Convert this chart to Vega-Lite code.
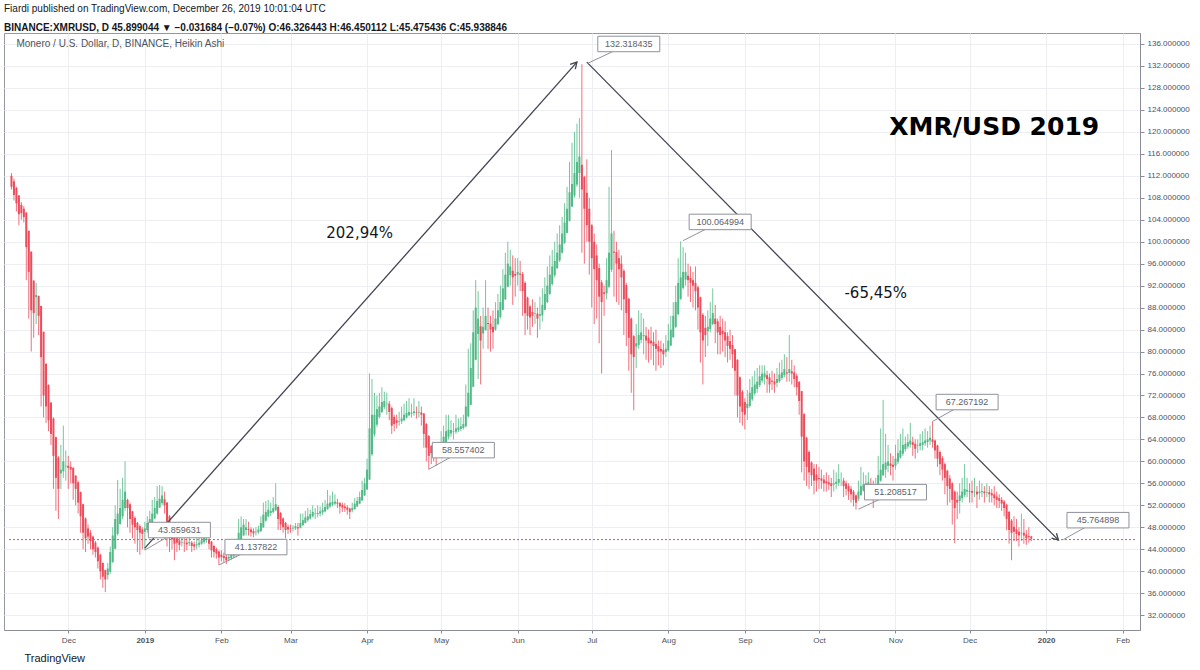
{
"$schema":"https://vega.github.io/schema/vega-lite/v6.json",
"width":1136,"height":597,
"autosize":{"type":"none"},
"padding":{"left":4,"top":33,"right":60,"bottom":40},
"background":"#ffffff",
"title":{"text":"Fiardi published on TradingView.com, December 26, 2019 10:01:04 UTC","subtitle":"BINANCE:XMRUSD, D  45.899044 ▼ −0.031684 (−0.07%)  O:46.326443  H:46.450112  L:45.475436  C:45.938846","anchor":"start","frame":"bounds","font":"Liberation Sans","fontSize":10,"fontWeight":"normal","color":"#131722","subtitleFont":"Liberation Sans","subtitleFontSize":10,"subtitleFontWeight":"bold","subtitleColor":"#131722","offset":0,"subtitlePadding":9},
"datasets":{
"candles":[
{"d":"2018-11-08","o":112,"h":112.5,"l":109.5,"c":110},
{"d":"2018-11-09","o":111,"h":111.5,"l":107.5,"c":108.5},
{"d":"2018-11-10","o":109.8,"h":110,"l":105.5,"c":107},
{"d":"2018-11-11","o":108.4,"h":108.5,"l":103,"c":105},
{"d":"2018-11-12","o":106.7,"h":107.2,"l":104,"c":105.2},
{"d":"2018-11-13","o":106,"h":106.5,"l":103.5,"c":104.5},
{"d":"2018-11-14","o":105.3,"h":105.4,"l":93,"c":99},
{"d":"2018-11-15","o":102,"h":102,"l":86,"c":94.5},
{"d":"2018-11-16","o":98.2,"h":98.2,"l":80,"c":87.5},
{"d":"2018-11-17","o":92.9,"h":93,"l":82.5,"c":87},
{"d":"2018-11-18","o":89.9,"h":92.5,"l":85,"c":90.3},
{"d":"2018-11-19","o":90.1,"h":90.2,"l":83,"c":86.5},
{"d":"2018-11-20","o":88.3,"h":88.3,"l":70,"c":79},
{"d":"2018-11-21","o":83.6,"h":83.6,"l":68,"c":72},
{"d":"2018-11-22","o":77.8,"h":77.8,"l":67,"c":70},
{"d":"2018-11-23","o":73.9,"h":74,"l":65.5,"c":67.5},
{"d":"2018-11-24","o":70.7,"h":70.8,"l":63,"c":65},
{"d":"2018-11-25","o":67.8,"h":68,"l":55,"c":61},
{"d":"2018-11-26","o":64.4,"h":64.5,"l":51,"c":57},
{"d":"2018-11-27","o":60.7,"h":61,"l":49.5,"c":55},
{"d":"2018-11-28","o":57.8,"h":63,"l":55,"c":58.5},
{"d":"2018-11-29","o":58.2,"h":66.5,"l":57,"c":60},
{"d":"2018-11-30","o":59.1,"h":62,"l":56.5,"c":59.2},
{"d":"2018-12-01","o":59.2,"h":61,"l":55,"c":58.8},
{"d":"2018-12-02","o":59,"h":60,"l":56,"c":58.5},
{"d":"2018-12-03","o":58.8,"h":59,"l":53,"c":56},
{"d":"2018-12-04","o":57.4,"h":57.5,"l":52,"c":55},
{"d":"2018-12-05","o":56.2,"h":56.5,"l":50.5,"c":52.5},
{"d":"2018-12-06","o":54.4,"h":54.5,"l":47,"c":50},
{"d":"2018-12-07","o":52.2,"h":52.3,"l":44,"c":47},
{"d":"2018-12-08","o":49.6,"h":49.8,"l":43.5,"c":46},
{"d":"2018-12-09","o":47.8,"h":48.5,"l":45,"c":46.3},
{"d":"2018-12-10","o":47,"h":47.5,"l":44,"c":45.5},
{"d":"2018-12-11","o":46.3,"h":46.5,"l":43,"c":44},
{"d":"2018-12-12","o":45.2,"h":45.5,"l":42.5,"c":43.5},
{"d":"2018-12-13","o":44.3,"h":44.5,"l":40.5,"c":41.8},
{"d":"2018-12-14","o":43,"h":43.2,"l":38.5,"c":40},
{"d":"2018-12-15","o":41.5,"h":41.6,"l":37,"c":39},
{"d":"2018-12-16","o":40.2,"h":40.3,"l":36.2,"c":38.5},
{"d":"2018-12-17","o":39.3,"h":41.5,"l":38.5,"c":40.5},
{"d":"2018-12-18","o":39.9,"h":44.5,"l":39.5,"c":43.5},
{"d":"2018-12-19","o":41.7,"h":48,"l":41.5,"c":46.5},
{"d":"2018-12-20","o":44.1,"h":52,"l":44,"c":49.5},
{"d":"2018-12-21","o":46.8,"h":56.6,"l":46.5,"c":50.5},
{"d":"2018-12-22","o":48.6,"h":55,"l":48.5,"c":51.5},
{"d":"2018-12-23","o":50,"h":57,"l":49.5,"c":53},
{"d":"2018-12-24","o":51.5,"h":60,"l":51,"c":54.5},
{"d":"2018-12-25","o":53,"h":53.2,"l":48,"c":51.5},
{"d":"2018-12-26","o":52.2,"h":52.5,"l":47,"c":49.5},
{"d":"2018-12-27","o":50.9,"h":51,"l":46,"c":48.5},
{"d":"2018-12-28","o":49.7,"h":50,"l":45,"c":48},
{"d":"2018-12-29","o":48.8,"h":49,"l":43.5,"c":47.5},
{"d":"2018-12-30","o":48.2,"h":48.5,"l":43,"c":47},
{"d":"2018-12-31","o":47.6,"h":48,"l":44,"c":46.8},
{"d":"2019-01-01","o":47.2,"h":49,"l":43.86,"c":47.8},
{"d":"2019-01-02","o":47.5,"h":50,"l":47,"c":48.8},
{"d":"2019-01-03","o":48.1,"h":51,"l":47.5,"c":49.5},
{"d":"2019-01-04","o":48.8,"h":53,"l":48.5,"c":50.5},
{"d":"2019-01-05","o":49.6,"h":53.5,"l":49.5,"c":51.5},
{"d":"2019-01-06","o":50.5,"h":55.5,"l":50.3,"c":52.8},
{"d":"2019-01-07","o":51.6,"h":55.7,"l":51.5,"c":53.2},
{"d":"2019-01-08","o":52.4,"h":55.5,"l":52,"c":53.8},
{"d":"2019-01-09","o":53.1,"h":54.5,"l":50.5,"c":52},
{"d":"2019-01-10","o":52.5,"h":52.6,"l":44.5,"c":47.5},
{"d":"2019-01-11","o":50,"h":50.2,"l":43.5,"c":46},
{"d":"2019-01-12","o":48,"h":48.2,"l":44,"c":45.8},
{"d":"2019-01-13","o":46.9,"h":47,"l":42,"c":45},
{"d":"2019-01-14","o":46,"h":46.5,"l":43.5,"c":45.2},
{"d":"2019-01-15","o":45.6,"h":46.5,"l":43.8,"c":44.8},
{"d":"2019-01-16","o":45.2,"h":46.3,"l":44.5,"c":45.3},
{"d":"2019-01-17","o":45.2,"h":46,"l":43.5,"c":45.1},
{"d":"2019-01-18","o":45.2,"h":46,"l":43.8,"c":44.9},
{"d":"2019-01-19","o":45.1,"h":46.5,"l":44.6,"c":45.3},
{"d":"2019-01-20","o":45.2,"h":45.5,"l":43.5,"c":44.6},
{"d":"2019-01-21","o":44.9,"h":45.4,"l":43.8,"c":44.5},
{"d":"2019-01-22","o":44.7,"h":46,"l":44,"c":44.9},
{"d":"2019-01-23","o":44.8,"h":46.2,"l":44.3,"c":45.2},
{"d":"2019-01-24","o":45,"h":46.5,"l":44.8,"c":45.6},
{"d":"2019-01-25","o":45.3,"h":47,"l":45,"c":46.1},
{"d":"2019-01-26","o":45.7,"h":46.8,"l":45.2,"c":45.9},
{"d":"2019-01-27","o":45.8,"h":46,"l":44,"c":45},
{"d":"2019-01-28","o":45.4,"h":45.5,"l":42.5,"c":43.8},
{"d":"2019-01-29","o":44.6,"h":44.8,"l":42.5,"c":43.5},
{"d":"2019-01-30","o":44,"h":44.3,"l":42.3,"c":43.2},
{"d":"2019-01-31","o":43.6,"h":43.8,"l":41.14,"c":42.5},
{"d":"2019-02-01","o":43.05,"h":43.8,"l":41.8,"c":42.6},
{"d":"2019-02-02","o":42.8,"h":43.4,"l":41.6,"c":42.4},
{"d":"2019-02-03","o":42.6,"h":43,"l":41.3,"c":42},
{"d":"2019-02-04","o":42.3,"h":43.5,"l":41.8,"c":42.6},
{"d":"2019-02-05","o":42.4,"h":44,"l":42,"c":43},
{"d":"2019-02-06","o":42.7,"h":44.5,"l":42.3,"c":43.3},
{"d":"2019-02-07","o":43,"h":44.3,"l":42.5,"c":43.5},
{"d":"2019-02-08","o":43.2,"h":49.5,"l":43,"c":47},
{"d":"2019-02-09","o":45.1,"h":50,"l":45,"c":48},
{"d":"2019-02-10","o":46.5,"h":49.5,"l":46.5,"c":48.5},
{"d":"2019-02-11","o":47.5,"h":49.5,"l":46.5,"c":48},
{"d":"2019-02-12","o":47.7,"h":49,"l":46.5,"c":47.5},
{"d":"2019-02-13","o":47.6,"h":48,"l":46.3,"c":47.1},
{"d":"2019-02-14","o":47.3,"h":47.8,"l":46.2,"c":46.9},
{"d":"2019-02-15","o":47.1,"h":48,"l":46.5,"c":47.2},
{"d":"2019-02-16","o":47.1,"h":48.3,"l":46.8,"c":47.6},
{"d":"2019-02-17","o":47.3,"h":50,"l":47.2,"c":48.8},
{"d":"2019-02-18","o":48,"h":52.5,"l":47.9,"c":50.3},
{"d":"2019-02-19","o":49.2,"h":52.8,"l":49,"c":50.8},
{"d":"2019-02-20","o":50,"h":53,"l":49.8,"c":51.2},
{"d":"2019-02-21","o":50.6,"h":52.5,"l":50,"c":51},
{"d":"2019-02-22","o":50.8,"h":53.5,"l":50.5,"c":51.5},
{"d":"2019-02-23","o":51.1,"h":56,"l":51,"c":52.2},
{"d":"2019-02-24","o":51.7,"h":52,"l":47.5,"c":49.5},
{"d":"2019-02-25","o":50.6,"h":50.8,"l":47.5,"c":48.5},
{"d":"2019-02-26","o":49.6,"h":49.8,"l":47,"c":48},
{"d":"2019-02-27","o":48.8,"h":49,"l":46,"c":47.5},
{"d":"2019-02-28","o":48.1,"h":48.5,"l":46.8,"c":47.6},
{"d":"2019-03-01","o":47.9,"h":48.5,"l":47,"c":47.8},
{"d":"2019-03-02","o":47.8,"h":48.4,"l":47.2,"c":47.9},
{"d":"2019-03-03","o":47.8,"h":48.8,"l":47.5,"c":48.2},
{"d":"2019-03-04","o":48,"h":48.8,"l":46.5,"c":47.8},
{"d":"2019-03-05","o":47.9,"h":50.5,"l":47.8,"c":48.8},
{"d":"2019-03-06","o":48.4,"h":50.5,"l":48.2,"c":49.3},
{"d":"2019-03-07","o":48.8,"h":51,"l":48.7,"c":49.8},
{"d":"2019-03-08","o":49.3,"h":51.5,"l":49,"c":50},
{"d":"2019-03-09","o":49.6,"h":51.2,"l":49.4,"c":50.4},
{"d":"2019-03-10","o":50,"h":52,"l":49.8,"c":50.8},
{"d":"2019-03-11","o":50.4,"h":51.5,"l":49.5,"c":50.5},
{"d":"2019-03-12","o":50.4,"h":52,"l":49.8,"c":50.6},
{"d":"2019-03-13","o":50.5,"h":51.8,"l":50,"c":50.9},
{"d":"2019-03-14","o":50.7,"h":52.5,"l":50.2,"c":51.2},
{"d":"2019-03-15","o":50.9,"h":53,"l":50.7,"c":51.7},
{"d":"2019-03-16","o":51.3,"h":54.8,"l":51.2,"c":52.3},
{"d":"2019-03-17","o":51.8,"h":53.8,"l":51.5,"c":52.5},
{"d":"2019-03-18","o":52.1,"h":54.5,"l":51.8,"c":52.6},
{"d":"2019-03-19","o":52.3,"h":54,"l":52,"c":52.7},
{"d":"2019-03-20","o":52.5,"h":53.2,"l":51.5,"c":52.3},
{"d":"2019-03-21","o":52.4,"h":52.6,"l":50.5,"c":51.8},
{"d":"2019-03-22","o":52.1,"h":52.5,"l":50.8,"c":51.6},
{"d":"2019-03-23","o":51.8,"h":52.4,"l":50.8,"c":51.5},
{"d":"2019-03-24","o":51.6,"h":52,"l":50.3,"c":51.2},
{"d":"2019-03-25","o":51.4,"h":51.6,"l":49.5,"c":50.8},
{"d":"2019-03-26","o":51.1,"h":52.5,"l":50.7,"c":51.5},
{"d":"2019-03-27","o":51.3,"h":53.3,"l":51.2,"c":52.3},
{"d":"2019-03-28","o":51.8,"h":53.5,"l":51.7,"c":52.8},
{"d":"2019-03-29","o":52.3,"h":54.5,"l":52.2,"c":53.5},
{"d":"2019-03-30","o":52.9,"h":56.5,"l":52.8,"c":54.8},
{"d":"2019-03-31","o":53.8,"h":57,"l":53.7,"c":56},
{"d":"2019-04-01","o":54.9,"h":60.5,"l":54.8,"c":58.5},
{"d":"2019-04-02","o":56.7,"h":76,"l":56.6,"c":66},
{"d":"2019-04-03","o":61.3,"h":75,"l":61,"c":68.5},
{"d":"2019-04-04","o":64.9,"h":72.5,"l":64.5,"c":68.5},
{"d":"2019-04-05","o":66.7,"h":72,"l":66.3,"c":69.5},
{"d":"2019-04-06","o":68.1,"h":72.5,"l":67.8,"c":70},
{"d":"2019-04-07","o":69,"h":73.5,"l":68.8,"c":70.8},
{"d":"2019-04-08","o":69.9,"h":72.7,"l":69.5,"c":71},
{"d":"2019-04-09","o":70.4,"h":72.5,"l":68.5,"c":70.5},
{"d":"2019-04-10","o":70.5,"h":71,"l":67.5,"c":69},
{"d":"2019-04-11","o":69.7,"h":70,"l":65,"c":66.5},
{"d":"2019-04-12","o":68.1,"h":68.5,"l":65.5,"c":66.8},
{"d":"2019-04-13","o":67.5,"h":68.5,"l":66,"c":67},
{"d":"2019-04-14","o":67.2,"h":69,"l":66.5,"c":67.3},
{"d":"2019-04-15","o":67.3,"h":70,"l":66.8,"c":67.8},
{"d":"2019-04-16","o":67.5,"h":70.5,"l":67.3,"c":68.5},
{"d":"2019-04-17","o":68,"h":71,"l":67.8,"c":68.8},
{"d":"2019-04-18","o":68.4,"h":71.5,"l":68.2,"c":69},
{"d":"2019-04-19","o":68.7,"h":70.5,"l":68,"c":68.9},
{"d":"2019-04-20","o":68.8,"h":71.5,"l":68.3,"c":69.1},
{"d":"2019-04-21","o":68.9,"h":70,"l":67.8,"c":68.8},
{"d":"2019-04-22","o":68.9,"h":71,"l":68,"c":69},
{"d":"2019-04-23","o":68.9,"h":70,"l":66.5,"c":68.5},
{"d":"2019-04-24","o":68.7,"h":68.8,"l":62.5,"c":65},
{"d":"2019-04-25","o":66.8,"h":67,"l":60,"c":62.5},
{"d":"2019-04-26","o":64.6,"h":64.8,"l":58.56,"c":61},
{"d":"2019-04-27","o":62.8,"h":63,"l":59.5,"c":61.5},
{"d":"2019-04-28","o":62.1,"h":62.5,"l":60,"c":61.2},
{"d":"2019-04-29","o":61.6,"h":62,"l":59.2,"c":60.8},
{"d":"2019-04-30","o":61.2,"h":63.5,"l":60.8,"c":62},
{"d":"2019-05-01","o":61.6,"h":65.5,"l":61.5,"c":63.5},
{"d":"2019-05-02","o":62.5,"h":66.5,"l":62.3,"c":64.5},
{"d":"2019-05-03","o":63.5,"h":68.5,"l":63.3,"c":65.5},
{"d":"2019-05-04","o":64.5,"h":68.5,"l":64,"c":65.8},
{"d":"2019-05-05","o":65.1,"h":67.5,"l":64.5,"c":65.7},
{"d":"2019-05-06","o":65.4,"h":67,"l":64,"c":65.5},
{"d":"2019-05-07","o":65.4,"h":68.5,"l":65,"c":66},
{"d":"2019-05-08","o":65.7,"h":67.8,"l":65.3,"c":66.2},
{"d":"2019-05-09","o":65.9,"h":68,"l":65.5,"c":66.4},
{"d":"2019-05-10","o":66.1,"h":68.5,"l":65.8,"c":66.8},
{"d":"2019-05-11","o":66.4,"h":74,"l":66.2,"c":70},
{"d":"2019-05-12","o":68.2,"h":80.5,"l":68,"c":72.5},
{"d":"2019-05-13","o":70.3,"h":81.5,"l":70.2,"c":77},
{"d":"2019-05-14","o":73.6,"h":87.5,"l":73.5,"c":83.5},
{"d":"2019-05-15","o":78.5,"h":93,"l":78.4,"c":88},
{"d":"2019-05-16","o":83.2,"h":91,"l":75,"c":86},
{"d":"2019-05-17","o":84.6,"h":86.5,"l":74,"c":82},
{"d":"2019-05-18","o":83.3,"h":88,"l":80.5,"c":84.5},
{"d":"2019-05-19","o":83.9,"h":93,"l":83.8,"c":86.5},
{"d":"2019-05-20","o":85.2,"h":88,"l":80.5,"c":85},
{"d":"2019-05-21","o":85.1,"h":86.5,"l":80,"c":84},
{"d":"2019-05-22","o":84.5,"h":87.5,"l":80.5,"c":83.5},
{"d":"2019-05-23","o":84,"h":89,"l":83.8,"c":86},
{"d":"2019-05-24","o":85,"h":90.5,"l":84.8,"c":87.5},
{"d":"2019-05-25","o":86.3,"h":92,"l":86,"c":89},
{"d":"2019-05-26","o":87.6,"h":95,"l":87.5,"c":91.5},
{"d":"2019-05-27","o":89.5,"h":98,"l":89.4,"c":94},
{"d":"2019-05-28","o":91.8,"h":100,"l":91.7,"c":96},
{"d":"2019-05-29","o":93.9,"h":98.5,"l":92,"c":95.5},
{"d":"2019-05-30","o":94.7,"h":97.5,"l":88.5,"c":93.5},
{"d":"2019-05-31","o":94.1,"h":97,"l":90,"c":93.8},
{"d":"2019-06-01","o":94,"h":97,"l":92,"c":94.5},
{"d":"2019-06-02","o":94.2,"h":96.5,"l":91,"c":94},
{"d":"2019-06-03","o":94.1,"h":94.5,"l":86.5,"c":91},
{"d":"2019-06-04","o":92.5,"h":92.8,"l":83,"c":87},
{"d":"2019-06-05","o":89.8,"h":90,"l":84,"c":86.5},
{"d":"2019-06-06","o":88.2,"h":88.5,"l":83,"c":86.2},
{"d":"2019-06-07","o":87.2,"h":89.5,"l":84.5,"c":86.5},
{"d":"2019-06-08","o":86.9,"h":89,"l":85,"c":87},
{"d":"2019-06-09","o":86.9,"h":88,"l":82.5,"c":86},
{"d":"2019-06-10","o":86.5,"h":90,"l":84,"c":86.8},
{"d":"2019-06-11","o":86.6,"h":91.5,"l":85.5,"c":88.5},
{"d":"2019-06-12","o":87.6,"h":93.5,"l":87.5,"c":90.5},
{"d":"2019-06-13","o":89,"h":95.5,"l":88.8,"c":92},
{"d":"2019-06-14","o":90.5,"h":97.5,"l":90.3,"c":94},
{"d":"2019-06-15","o":92.3,"h":98.5,"l":92,"c":95.5},
{"d":"2019-06-16","o":93.9,"h":100,"l":93.5,"c":96.5},
{"d":"2019-06-17","o":95.2,"h":101.5,"l":95,"c":98},
{"d":"2019-06-18","o":96.6,"h":103,"l":96.3,"c":99.5},
{"d":"2019-06-19","o":98,"h":104.5,"l":97.8,"c":101.5},
{"d":"2019-06-20","o":99.8,"h":107,"l":99.6,"c":103.5},
{"d":"2019-06-21","o":101.6,"h":110,"l":101.5,"c":106},
{"d":"2019-06-22","o":103.8,"h":114.5,"l":103.7,"c":109},
{"d":"2019-06-23","o":106.4,"h":118,"l":106.3,"c":110.5},
{"d":"2019-06-24","o":108.4,"h":120,"l":108,"c":112.5},
{"d":"2019-06-25","o":110.4,"h":121.5,"l":110,"c":114.5},
{"d":"2019-06-26","o":112.5,"h":122.5,"l":108,"c":115.5},
{"d":"2019-06-27","o":114,"h":132.32,"l":98,"c":109.5},
{"d":"2019-06-28","o":111.8,"h":112,"l":96,"c":106},
{"d":"2019-06-29","o":108.9,"h":115,"l":100,"c":103},
{"d":"2019-06-30","o":106,"h":108,"l":94,"c":100},
{"d":"2019-07-01","o":103,"h":103.2,"l":88,"c":97},
{"d":"2019-07-02","o":100,"h":101.5,"l":85,"c":95},
{"d":"2019-07-03","o":97.5,"h":99.5,"l":86,"c":93},
{"d":"2019-07-04","o":95.2,"h":96,"l":81.5,"c":90},
{"d":"2019-07-05","o":92.6,"h":93,"l":76,"c":89},
{"d":"2019-07-06","o":90.8,"h":92,"l":86.5,"c":90.5},
{"d":"2019-07-07","o":90.6,"h":97,"l":89.5,"c":93},
{"d":"2019-07-08","o":91.8,"h":110,"l":91.5,"c":98},
{"d":"2019-07-09","o":94.9,"h":116.7,"l":94.5,"c":101.5},
{"d":"2019-07-10","o":98.2,"h":102,"l":90,"c":98},
{"d":"2019-07-11","o":98.1,"h":100,"l":89,"c":96},
{"d":"2019-07-12","o":97,"h":98.5,"l":88.5,"c":95},
{"d":"2019-07-13","o":96,"h":97.5,"l":87.5,"c":93.5},
{"d":"2019-07-14","o":94.7,"h":95,"l":83,"c":89.5},
{"d":"2019-07-15","o":92.1,"h":92.5,"l":81,"c":87},
{"d":"2019-07-16","o":89.6,"h":89.8,"l":76.5,"c":82.5},
{"d":"2019-07-17","o":86,"h":86.2,"l":72.5,"c":79.5},
{"d":"2019-07-18","o":82.8,"h":83,"l":69.3,"c":79},
{"d":"2019-07-19","o":80.9,"h":85,"l":77,"c":81.5},
{"d":"2019-07-20","o":81.2,"h":87.5,"l":80.5,"c":83},
{"d":"2019-07-21","o":82.1,"h":87,"l":81.5,"c":83.5},
{"d":"2019-07-22","o":82.8,"h":86,"l":79.5,"c":83},
{"d":"2019-07-23","o":82.9,"h":84.5,"l":78.5,"c":82},
{"d":"2019-07-24","o":82.5,"h":84,"l":78,"c":81.5},
{"d":"2019-07-25","o":82,"h":84.5,"l":78.5,"c":81.5},
{"d":"2019-07-26","o":81.8,"h":83.5,"l":77.5,"c":81},
{"d":"2019-07-27","o":81.4,"h":84,"l":76.5,"c":80.5},
{"d":"2019-07-28","o":81,"h":82,"l":77.5,"c":80},
{"d":"2019-07-29","o":80.5,"h":82,"l":77,"c":80},
{"d":"2019-07-30","o":80.3,"h":81.5,"l":77.5,"c":79.5},
{"d":"2019-07-31","o":79.9,"h":83,"l":79,"c":80.5},
{"d":"2019-08-01","o":80.2,"h":85,"l":80,"c":82},
{"d":"2019-08-02","o":81.1,"h":86.5,"l":81,"c":84},
{"d":"2019-08-03","o":82.6,"h":89,"l":82.5,"c":86.5},
{"d":"2019-08-04","o":84.5,"h":92,"l":84.3,"c":89},
{"d":"2019-08-05","o":86.8,"h":97,"l":86.6,"c":92.5},
{"d":"2019-08-06","o":89.6,"h":100.06,"l":89.4,"c":93.5},
{"d":"2019-08-07","o":91.6,"h":99,"l":91.3,"c":94.5},
{"d":"2019-08-08","o":93.1,"h":98,"l":92,"c":94.5},
{"d":"2019-08-09","o":93.8,"h":96,"l":90,"c":93},
{"d":"2019-08-10","o":93.4,"h":95.5,"l":89,"c":92.5},
{"d":"2019-08-11","o":93,"h":94.5,"l":88,"c":92},
{"d":"2019-08-12","o":92.5,"h":95.5,"l":87.5,"c":91},
{"d":"2019-08-13","o":91.7,"h":92,"l":84,"c":88},
{"d":"2019-08-14","o":89.9,"h":90,"l":78,"c":83.5},
{"d":"2019-08-15","o":86.7,"h":87,"l":74,"c":82},
{"d":"2019-08-16","o":84.3,"h":86.5,"l":79,"c":83},
{"d":"2019-08-17","o":83.7,"h":87.5,"l":81,"c":84.5},
{"d":"2019-08-18","o":84.1,"h":89,"l":83.5,"c":86},
{"d":"2019-08-19","o":85,"h":91.5,"l":84.8,"c":87},
{"d":"2019-08-20","o":86,"h":88.5,"l":81.5,"c":85},
{"d":"2019-08-21","o":85.5,"h":86,"l":79.5,"c":83.5},
{"d":"2019-08-22","o":84.5,"h":86.5,"l":79.5,"c":83},
{"d":"2019-08-23","o":83.8,"h":86,"l":80,"c":83.2},
{"d":"2019-08-24","o":83.5,"h":85.5,"l":79,"c":82},
{"d":"2019-08-25","o":82.8,"h":83.5,"l":78,"c":81},
{"d":"2019-08-26","o":81.9,"h":84,"l":78.5,"c":80.5},
{"d":"2019-08-27","o":81.2,"h":83,"l":77,"c":79.5},
{"d":"2019-08-28","o":80.4,"h":80.5,"l":72,"c":76.5},
{"d":"2019-08-29","o":78.5,"h":78.6,"l":68,"c":72},
{"d":"2019-08-30","o":75.3,"h":75.5,"l":67,"c":70},
{"d":"2019-08-31","o":72.7,"h":73,"l":66.5,"c":69},
{"d":"2019-09-01","o":70.8,"h":71.5,"l":65.8,"c":68.5},
{"d":"2019-09-02","o":69.7,"h":73,"l":67.5,"c":70.5},
{"d":"2019-09-03","o":70.1,"h":75,"l":69.8,"c":72.5},
{"d":"2019-09-04","o":71.3,"h":75.5,"l":71,"c":73.5},
{"d":"2019-09-05","o":72.4,"h":76.5,"l":72,"c":74},
{"d":"2019-09-06","o":73.2,"h":77,"l":72.5,"c":74.5},
{"d":"2019-09-07","o":73.9,"h":77.5,"l":73.5,"c":75.5},
{"d":"2019-09-08","o":74.7,"h":77.5,"l":74.3,"c":76},
{"d":"2019-09-09","o":75.3,"h":77.5,"l":74,"c":76},
{"d":"2019-09-10","o":75.7,"h":76.5,"l":72.5,"c":75},
{"d":"2019-09-11","o":75.3,"h":76,"l":72.5,"c":74},
{"d":"2019-09-12","o":74.7,"h":76.5,"l":73,"c":74.5},
{"d":"2019-09-13","o":74.6,"h":76,"l":72.5,"c":74},
{"d":"2019-09-14","o":74.3,"h":77,"l":73.5,"c":75},
{"d":"2019-09-15","o":74.6,"h":78,"l":74.3,"c":75.8},
{"d":"2019-09-16","o":75.2,"h":78.5,"l":74.8,"c":76.2},
{"d":"2019-09-17","o":75.7,"h":79.5,"l":75.3,"c":76.8},
{"d":"2019-09-18","o":76.2,"h":79,"l":74.5,"c":76},
{"d":"2019-09-19","o":76.1,"h":83,"l":74.5,"c":76.8},
{"d":"2019-09-20","o":76.4,"h":78.5,"l":74,"c":76},
{"d":"2019-09-21","o":76.2,"h":77.5,"l":73.5,"c":75},
{"d":"2019-09-22","o":75.6,"h":76,"l":72,"c":73.5},
{"d":"2019-09-23","o":74.5,"h":74.6,"l":68.5,"c":71},
{"d":"2019-09-24","o":72.8,"h":72.8,"l":58,"c":64.5},
{"d":"2019-09-25","o":68.6,"h":68.8,"l":56.5,"c":60},
{"d":"2019-09-26","o":64.3,"h":64.5,"l":55.5,"c":59},
{"d":"2019-09-27","o":61.7,"h":62,"l":55,"c":58},
{"d":"2019-09-28","o":59.8,"h":60,"l":55.5,"c":57.5},
{"d":"2019-09-29","o":58.7,"h":59.5,"l":54,"c":56.5},
{"d":"2019-09-30","o":57.6,"h":59.5,"l":54.5,"c":56.5},
{"d":"2019-10-01","o":57,"h":59,"l":55,"c":56.8},
{"d":"2019-10-02","o":56.9,"h":58.5,"l":55,"c":56.5},
{"d":"2019-10-03","o":56.7,"h":57.5,"l":54.5,"c":56},
{"d":"2019-10-04","o":56.4,"h":58,"l":54.5,"c":56},
{"d":"2019-10-05","o":56.2,"h":57.5,"l":54.8,"c":55.8},
{"d":"2019-10-06","o":56,"h":57,"l":53.5,"c":55.5},
{"d":"2019-10-07","o":55.8,"h":58.5,"l":54.5,"c":56},
{"d":"2019-10-08","o":55.9,"h":58,"l":55,"c":56.3},
{"d":"2019-10-09","o":56.1,"h":59.5,"l":55.5,"c":56.8},
{"d":"2019-10-10","o":56.5,"h":58,"l":55.5,"c":56.5},
{"d":"2019-10-11","o":56.5,"h":57,"l":53.5,"c":55.5},
{"d":"2019-10-12","o":56,"h":56.5,"l":53.8,"c":55},
{"d":"2019-10-13","o":55.5,"h":56,"l":53,"c":54.5},
{"d":"2019-10-14","o":55,"h":55.5,"l":52.5,"c":54},
{"d":"2019-10-15","o":54.5,"h":54.8,"l":51.8,"c":53},
{"d":"2019-10-16","o":53.8,"h":54,"l":51.21,"c":52.5},
{"d":"2019-10-17","o":53.2,"h":56.5,"l":52.8,"c":54.5},
{"d":"2019-10-18","o":53.9,"h":59,"l":53.7,"c":55.5},
{"d":"2019-10-19","o":54.7,"h":58,"l":54.5,"c":55.8},
{"d":"2019-10-20","o":55.3,"h":57.5,"l":54.5,"c":56},
{"d":"2019-10-21","o":55.6,"h":58,"l":55,"c":56.2},
{"d":"2019-10-22","o":55.9,"h":57,"l":53.5,"c":55.5},
{"d":"2019-10-23","o":55.7,"h":56.5,"l":51.5,"c":55},
{"d":"2019-10-24","o":55.4,"h":57,"l":53,"c":55.5},
{"d":"2019-10-25","o":55.4,"h":61,"l":55.3,"c":57.5},
{"d":"2019-10-26","o":56.5,"h":66,"l":56.3,"c":58.5},
{"d":"2019-10-27","o":57.5,"h":71.2,"l":57.3,"c":59.5},
{"d":"2019-10-28","o":58.5,"h":65,"l":57,"c":59.8},
{"d":"2019-10-29","o":59.2,"h":63,"l":58,"c":60},
{"d":"2019-10-30","o":59.6,"h":61.5,"l":57.5,"c":59.2},
{"d":"2019-10-31","o":59.4,"h":61,"l":56.5,"c":59},
{"d":"2019-11-01","o":59.2,"h":63,"l":58.5,"c":60.5},
{"d":"2019-11-02","o":59.9,"h":64,"l":59.5,"c":61.5},
{"d":"2019-11-03","o":60.7,"h":65,"l":60.5,"c":62},
{"d":"2019-11-04","o":61.4,"h":66,"l":61,"c":63},
{"d":"2019-11-05","o":62.2,"h":64.5,"l":61.8,"c":63.2},
{"d":"2019-11-06","o":62.7,"h":65,"l":62.3,"c":63.5},
{"d":"2019-11-07","o":63.1,"h":67,"l":62.5,"c":63.8},
{"d":"2019-11-08","o":63.5,"h":64.5,"l":61,"c":63},
{"d":"2019-11-09","o":63.2,"h":64,"l":60.5,"c":62.3},
{"d":"2019-11-10","o":62.8,"h":64,"l":61.5,"c":62.9},
{"d":"2019-11-11","o":62.8,"h":65,"l":62,"c":63.3},
{"d":"2019-11-12","o":63,"h":65.5,"l":62,"c":63.5},
{"d":"2019-11-13","o":63.3,"h":66,"l":62.8,"c":63.8},
{"d":"2019-11-14","o":63.5,"h":65.5,"l":62.5,"c":64},
{"d":"2019-11-15","o":63.8,"h":66.5,"l":63,"c":64.3},
{"d":"2019-11-16","o":64,"h":67.27,"l":62.5,"c":63.5},
{"d":"2019-11-17","o":63.8,"h":64,"l":60.5,"c":62},
{"d":"2019-11-18","o":62.9,"h":63,"l":59,"c":60.5},
{"d":"2019-11-19","o":61.7,"h":62,"l":57.5,"c":59.5},
{"d":"2019-11-20","o":60.6,"h":61,"l":56.5,"c":58.5},
{"d":"2019-11-21","o":59.5,"h":59.8,"l":54,"c":57},
{"d":"2019-11-22","o":58.3,"h":58.5,"l":52,"c":55.5},
{"d":"2019-11-23","o":56.9,"h":57.5,"l":52.5,"c":55},
{"d":"2019-11-24","o":56,"h":56.2,"l":48.5,"c":53},
{"d":"2019-11-25","o":54.5,"h":54.7,"l":45.1,"c":51.5},
{"d":"2019-11-26","o":53,"h":54.5,"l":49.5,"c":52.5},
{"d":"2019-11-27","o":52.8,"h":56,"l":50.5,"c":53.8},
{"d":"2019-11-28","o":53.3,"h":57,"l":52.5,"c":54.5},
{"d":"2019-11-29","o":53.9,"h":59.5,"l":53.5,"c":55},
{"d":"2019-11-30","o":54.5,"h":57,"l":53.5,"c":54.8},
{"d":"2019-12-01","o":54.6,"h":56,"l":52.5,"c":54.5},
{"d":"2019-12-02","o":54.6,"h":56.5,"l":52.5,"c":54.3},
{"d":"2019-12-03","o":54.4,"h":57,"l":53.5,"c":54.5},
{"d":"2019-12-04","o":54.5,"h":55.5,"l":51.5,"c":54},
{"d":"2019-12-05","o":54.2,"h":56.5,"l":53,"c":54.5},
{"d":"2019-12-06","o":54.4,"h":56,"l":53.5,"c":54.6},
{"d":"2019-12-07","o":54.5,"h":55.5,"l":52.5,"c":54.2},
{"d":"2019-12-08","o":54.3,"h":56,"l":53.5,"c":54.4},
{"d":"2019-12-09","o":54.4,"h":55.5,"l":52.5,"c":54},
{"d":"2019-12-10","o":54.2,"h":55,"l":52.5,"c":53.8},
{"d":"2019-12-11","o":54,"h":55.5,"l":52,"c":53.3},
{"d":"2019-12-12","o":53.6,"h":54.5,"l":51.5,"c":53},
{"d":"2019-12-13","o":53.3,"h":54,"l":51.5,"c":52.8},
{"d":"2019-12-14","o":53,"h":53.5,"l":51,"c":52.3},
{"d":"2019-12-15","o":52.7,"h":53,"l":50,"c":51.5},
{"d":"2019-12-16","o":52.1,"h":52.3,"l":47.5,"c":49.5},
{"d":"2019-12-17","o":50.8,"h":51,"l":45,"c":47.5},
{"d":"2019-12-18","o":49.2,"h":49.5,"l":42,"c":47},
{"d":"2019-12-19","o":48.1,"h":50,"l":45.5,"c":47.2},
{"d":"2019-12-20","o":47.6,"h":49.5,"l":45.5,"c":46.8},
{"d":"2019-12-21","o":47.2,"h":48,"l":44.5,"c":46.5},
{"d":"2019-12-22","o":46.9,"h":50.5,"l":45.5,"c":47},
{"d":"2019-12-23","o":47,"h":49.5,"l":45,"c":46.5},
{"d":"2019-12-24","o":46.7,"h":47.5,"l":44.8,"c":46},
{"d":"2019-12-25","o":46.4,"h":48,"l":45.2,"c":46.2},
{"d":"2019-12-26","o":46.33,"h":46.45,"l":45.48,"c":45.94}
],
"lines":[{"d":"2019-01-01","p":44.2,"d2":"2019-06-25","p2":132.7},{"d":"2019-06-29","p":132.7,"d2":"2020-01-06","p2":45.66}],
"callouts":[
{"t":"132.318435","td":"2019-06-29","tp":132.4,"d":"2019-07-16","p":136},
{"t":"100.064994","td":"2019-08-07","tp":100.2,"d":"2019-08-22","p":103.6},
{"t":"43.859631","td":"2019-01-01","tp":43.86,"d":"2019-01-15","p":47.5},
{"t":"41.137822","td":"2019-01-31","tp":41.14,"d":"2019-02-15","p":44.4},
{"t":"58.557402","td":"2019-04-26","tp":58.56,"d":"2019-05-10","p":62.05},
{"t":"51.208517","td":"2019-10-17","tp":51.3,"d":"2019-11-01","p":54.4},
{"t":"67.267192","td":"2019-11-16","tp":67.27,"d":"2019-11-30","p":70.8},
{"t":"45.764898","td":"2020-01-08","tp":45.76,"d":"2020-01-22","p":49.3}
],
"pcts":[{"t":"202,94%","d":"2019-03-29","p":101.6},{"t":"-65,45%","d":"2019-10-24","p":90.65}]
},
"encoding":{
 "x":{"field":"d","type":"temporal","scale":{"type":"utc","domain":[1541548800000,1580947200000]},
  "axis":{"title":"TradingView","titleAnchor":"start","titleX":20,"titleY":31,"titleBaseline":"alphabetic","titleFont":"Liberation Sans","titleFontSize":11,"titleFontWeight":"normal","titleColor":"#131722",
   "tickCount":{"interval":"month","step":1},"grid":true,"labelExpr":"utcmonth(datum.value) === 0 ? utcFormat(datum.value, '%Y') : utcFormat(datum.value, '%b')",
   "labelFontWeight":{"condition":{"test":"utcmonth(datum.value) === 0","value":"bold"},"value":"normal"},
   "labelFlush":false,"labelOverlap":false,"tickSize":3,"labelPadding":3}},
 "y":{"field":"p","type":"quantitative","scale":{"domain":[29.3,138],"nice":false,"zero":false},
  "axis":{"orient":"right","title":null,"values":[32,36,40,44,48,52,56,60,64,68,72,76,80,84,88,92,96,100,104,108,112,116,120,124,128,132,136],"format":".6f","tickSize":4,"labelPadding":3,"grid":true,"labelOverlap":false}}
},
"layer":[
{"data":{"name":"candles"},
 "mark":{"type":"rule","strokeWidth":1,"opacity":0.8},
 "encoding":{
  "y":{"field":"l","type":"quantitative","scale":{"domain":[29.3,138],"nice":false,"zero":false},
   "axis":{"orient":"right","title":null,"values":[32,36,40,44,48,52,56,60,64,68,72,76,80,84,88,92,96,100,104,108,112,116,120,124,128,132,136],"format":".6f","tickSize":4,"labelPadding":3,"grid":true,"labelOverlap":false}},
  "y2":{"field":"h"},
  "color":{"condition":{"test":"datum.c >= datum.o","value":"#53b987"},"value":"#eb4d5c"}
 }},
{"data":{"name":"candles"},
 "mark":{"type":"bar","width":2},
 "encoding":{
  "y":{"field":"o","type":"quantitative","scale":{"domain":[29.3,138],"nice":false,"zero":false},
   "axis":{"orient":"right","title":null,"values":[32,36,40,44,48,52,56,60,64,68,72,76,80,84,88,92,96,100,104,108,112,116,120,124,128,132,136],"format":".6f","tickSize":4,"labelPadding":3,"grid":true,"labelOverlap":false}},
  "y2":{"field":"c"},
  "color":{"condition":{"test":"datum.c >= datum.o","value":"#53b987"},"value":"#eb4d5c"}
 }},
{"data":{"values":[{"d":"2018-11-07","d2":"2020-02-06","p":45.76}]},
 "mark":{"type":"rule","stroke":"#eb4d5c","strokeDash":[2,2],"strokeWidth":1},
 "encoding":{"x2":{"field":"d2"}}},
{"data":{"name":"lines"},
 "mark":{"type":"rule","color":"#434651","strokeWidth":1.3},
 "encoding":{"x2":{"field":"d2"},"y2":{"field":"p2"}}},
{"data":{"values":[{"d":"2019-06-25","p":132.7}]},
 "mark":{"type":"point","shape":"M-0.5,0.9L0,0L0.5,0.9","filled":false,"stroke":"#434651","strokeWidth":1.3,"size":196,"angle":42,"opacity":1}},
{"data":{"values":[{"d":"2020-01-06","p":45.66}]},
 "mark":{"type":"point","shape":"M-0.5,0.9L0,0L0.5,0.9","filled":false,"stroke":"#434651","strokeWidth":1.3,"size":196,"angle":135,"opacity":1}},
{"data":{"name":"callouts"},
 "mark":{"type":"rule","color":"#8f929b","strokeWidth":1},
 "encoding":{"x2":{"field":"td"},"y2":{"field":"tp"}}},
{"data":{"name":"callouts"},
 "mark":{"type":"point","shape":"M-1,-0.25L1,-0.25L1,0.25L-1,0.25Z","filled":true,"fill":"#ffffff","stroke":"#8f929b","strokeWidth":1,"size":3844,"opacity":1}},
{"data":{"name":"callouts"},
 "mark":{"type":"text","font":"Liberation Sans","fontSize":9,"color":"#5d606b","align":"center","baseline":"middle"},
 "encoding":{"text":{"field":"t"}}},
{"data":{"name":"pcts"},
 "mark":{"type":"text","font":"DejaVu Sans","fontSize":15,"color":"#131722","align":"center","baseline":"middle"},
 "encoding":{"text":{"field":"t"}}},
{"data":{"values":[{"t":"XMR/USD 2019","d":"2019-12-11","p":120.9}]},
 "mark":{"type":"text","font":"DejaVu Sans","fontSize":25,"fontWeight":"bold","color":"#000000","align":"center","baseline":"middle"},
 "encoding":{"text":{"field":"t"}}},
{"data":{"values":[{"t":"Monero / U.S. Dollar, D, BINANCE, Heikin Ashi","d":"2018-11-10","p":136}]},
 "mark":{"type":"text","font":"Liberation Sans","fontSize":10,"color":"#4c525e","align":"left","baseline":"middle"},
 "encoding":{"text":{"field":"t"}}}
],
"config":{
 "font":"Liberation Sans",
 "view":{"stroke":"#9598a1","strokeWidth":1},
 "axis":{"gridColor":"#eceef2","gridWidth":1,"domainColor":"#8a8d96","tickColor":"#8a8d96","labelColor":"#4c525e","labelFont":"Liberation Sans","labelFontSize":8}
}
}
